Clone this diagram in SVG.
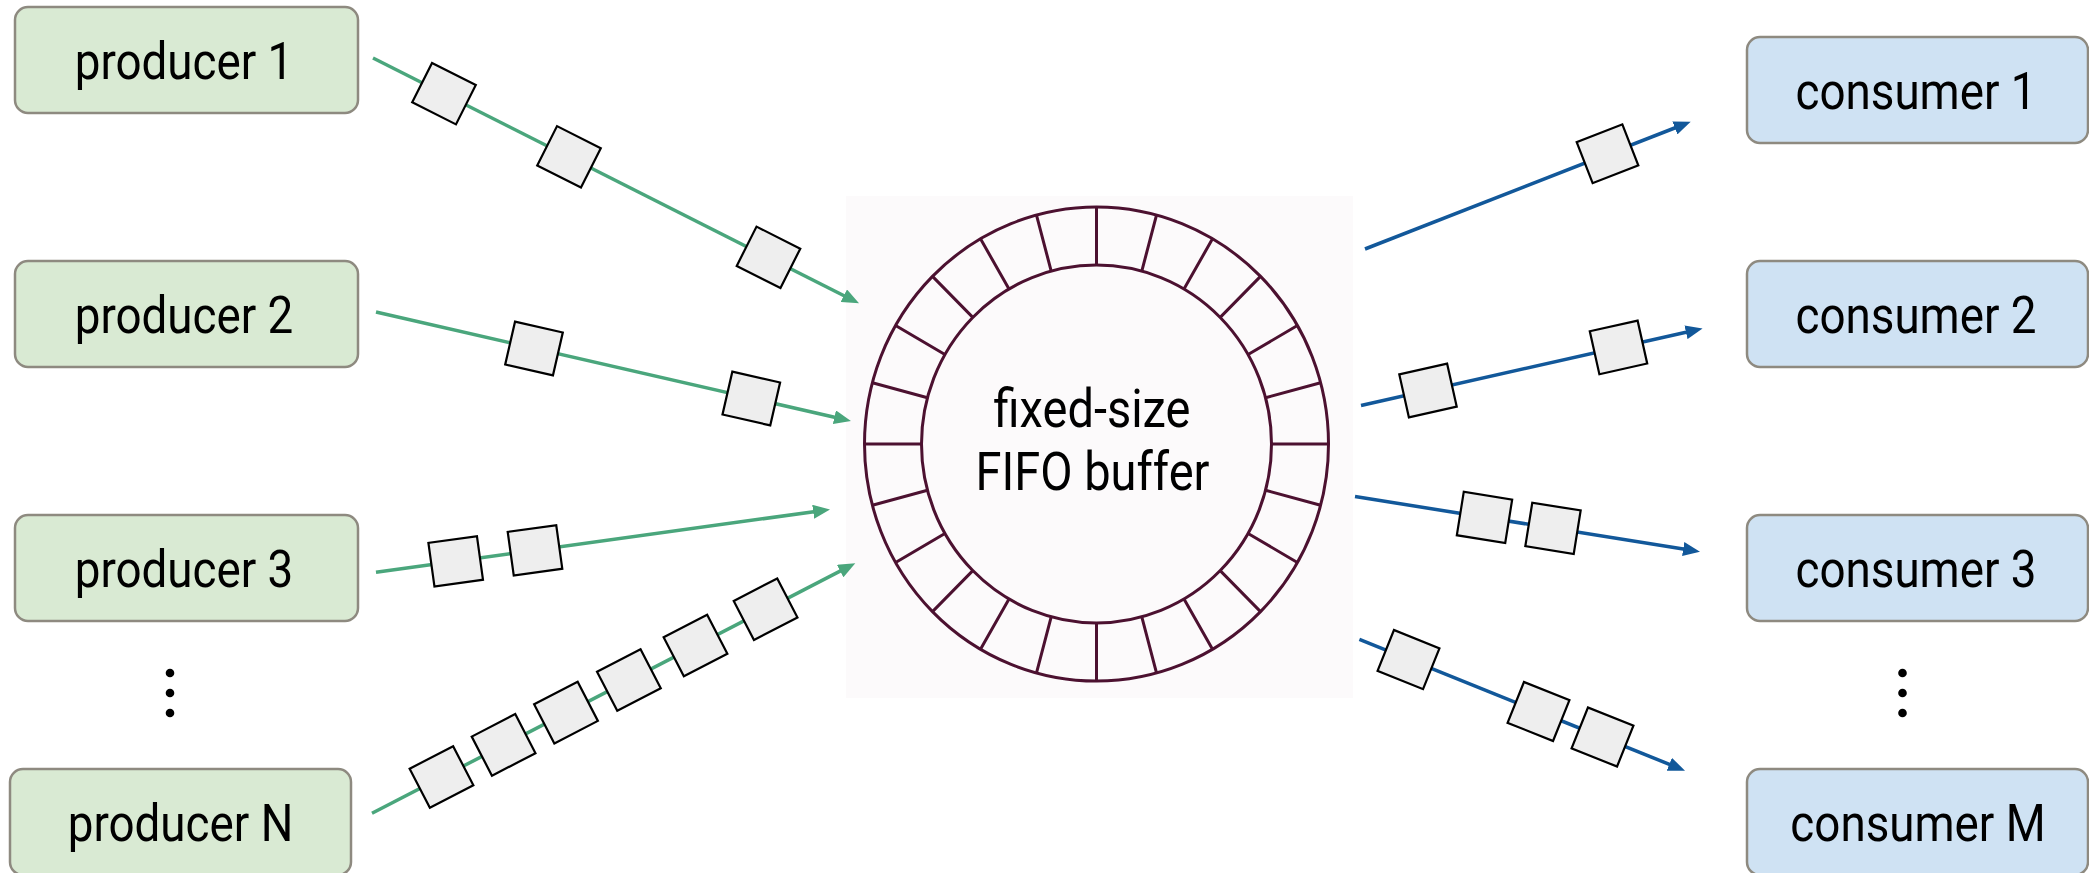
<svg xmlns="http://www.w3.org/2000/svg" xmlns:xlink="http://www.w3.org/1999/xlink" width="2089" height="873" viewBox="0 0 2089 873">
  <style>
    .prod rect { fill: #d9ead3; stroke: #8e8a80; stroke-width: 2.5; }
    .cons rect { fill: #cfe2f3; stroke: #8e8a80; stroke-width: 2.5; }
    .label { font-family: Roboto, "Liberation Sans", sans-serif; font-size: 52px; fill: #000; text-anchor: middle; }
    .center { font-family: Roboto, "Liberation Sans", sans-serif; font-size: 53px; fill: #000; text-anchor: middle; }
    .ring { fill: none; stroke: #4c1130; stroke-width: 3; }
    .in { fill: none; stroke: #4aa67c; stroke-width: 3.5; marker-end: url(#arrowIn); }
    .out { fill: none; stroke: #12589a; stroke-width: 3.5; marker-end: url(#arrowOut); }
    .pkt { fill: #eeeeee; stroke: #000; stroke-width: 2.2; }
    .dot { fill: #000; }
  </style>
  <defs>
    <marker id="arrowIn" markerUnits="userSpaceOnUse" markerWidth="18" markerHeight="14" refX="8" refY="7" orient="auto">
      <path d="M0,0 L17,7 L0,14 z" fill="#4aa67c"/>
    </marker>
    <marker id="arrowOut" markerUnits="userSpaceOnUse" markerWidth="18" markerHeight="14" refX="8" refY="7" orient="auto">
      <path d="M0,0 L17,7 L0,14 z" fill="#12589a"/>
    </marker>
    <rect id="pkt" class="pkt" x="-24.5" y="-22" width="49" height="44"/>
  </defs>

  <!-- producers (labels narrowed horizontally for a condensed face) -->
  <g id="producer-1" class="prod">
    <rect x="15" y="7" width="343" height="106" rx="13"/>
    <text class="label" transform="translate(184,79) scale(0.88,1)">producer 1</text>
  </g>
  <g id="producer-2" class="prod">
    <rect x="15" y="261" width="343" height="106" rx="13"/>
    <text class="label" transform="translate(184,333) scale(0.88,1)">producer 2</text>
  </g>
  <g id="producer-3" class="prod">
    <rect x="15" y="515" width="343" height="106" rx="13"/>
    <text class="label" transform="translate(184,587) scale(0.88,1)">producer 3</text>
  </g>
  <g id="producer-dots">
    <circle class="dot" cx="170" cy="673" r="4.3"/>
    <circle class="dot" cx="170" cy="693" r="4.3"/>
    <circle class="dot" cx="170" cy="713" r="4.3"/>
  </g>
  <g id="producer-n" class="prod">
    <rect x="10" y="769" width="341" height="106" rx="13"/>
    <text class="label" transform="translate(180.5,841) scale(0.88,1)">producer N</text>
  </g>

  <!-- ring buffer -->
  <g id="buffer">
    <rect x="846" y="196" width="507" height="502" fill="#fcfafb"/>
    <ellipse class="ring" cx="1096.5" cy="444" rx="232" ry="237"/>
    <ellipse class="ring" cx="1096.5" cy="444" rx="175" ry="179"/>
    <path class="ring" d="
      M1096.5,265 L1096.5,207
      M1141.8,271.1 L1156.5,215.1
      M1184,289 L1212.5,238.8
      M1220.2,317.4 L1260.5,276.4
      M1248.1,354.5 L1297.4,325.5
      M1265.5,397.7 L1320.6,382.7
      M1271.5,444 L1328.5,444
      M1265.5,490.3 L1320.6,505.3
      M1248.1,533.5 L1297.4,562.5
      M1220.2,570.6 L1260.5,611.6
      M1184,599 L1212.5,649.2
      M1141.8,616.9 L1156.5,672.9
      M1096.5,623 L1096.5,681
      M1051.2,616.9 L1036.5,672.9
      M1009,599 L980.5,649.2
      M972.8,570.6 L932.5,611.6
      M944.9,533.5 L895.6,562.5
      M927.5,490.3 L872.4,505.3
      M921.5,444 L864.5,444
      M927.5,397.7 L872.4,382.7
      M944.9,354.5 L895.6,325.5
      M972.8,317.4 L932.5,276.4
      M1009,289 L980.5,238.8
      M1051.2,271.1 L1036.5,215.1"/>
    <text class="center" transform="translate(1092,427) scale(0.887,1)">fixed-size</text>
    <text class="center" transform="translate(1092.5,490) scale(0.887,1)">FIFO buffer</text>
  </g>

  <!-- consumers -->
  <g id="consumer-1" class="cons">
    <rect x="1747" y="37" width="341" height="106" rx="13"/>
    <text class="label" transform="translate(1916,109) scale(0.88,1)">consumer 1</text>
  </g>
  <g id="consumer-2" class="cons">
    <rect x="1747" y="261" width="341" height="106" rx="13"/>
    <text class="label" transform="translate(1916,333) scale(0.88,1)">consumer 2</text>
  </g>
  <g id="consumer-3" class="cons">
    <rect x="1747" y="515" width="341" height="106" rx="13"/>
    <text class="label" transform="translate(1916,587) scale(0.88,1)">consumer 3</text>
  </g>
  <g id="consumer-dots">
    <circle class="dot" cx="1902.5" cy="673" r="4.3"/>
    <circle class="dot" cx="1902.5" cy="693" r="4.3"/>
    <circle class="dot" cx="1902.5" cy="713" r="4.3"/>
  </g>
  <g id="consumer-m" class="cons">
    <rect x="1747" y="769" width="341" height="106" rx="13"/>
    <text class="label" transform="translate(1918,841) scale(0.88,1)">consumer M</text>
  </g>

  <!-- connectors with queued items -->
  <g id="connectors">
    <path class="in" d="M373,58 L851,299.3"/>
    <path class="in" d="M376,312 L842.2,419"/>
    <path class="in" d="M376,572.3 L821.1,510.7"/>
    <path class="in" d="M372,813.3 L847.3,567.4"/>
    <path class="out" d="M1365,249 L1682.3,125"/>
    <path class="out" d="M1361,405.5 L1693.8,330.5"/>
    <path class="out" d="M1355,496.5 L1691.1,550.3"/>
    <path class="out" d="M1359.4,639.4 L1676.7,767.3"/>

    <use xlink:href="#pkt" transform="translate(444,93.7) rotate(26.75)"/>
    <use xlink:href="#pkt" transform="translate(569,156.8) rotate(26.75)"/>
    <use xlink:href="#pkt" transform="translate(768.5,257.3) rotate(26.75)"/>

    <use xlink:href="#pkt" transform="translate(534,348.5) rotate(12.93)"/>
    <use xlink:href="#pkt" transform="translate(751.3,398.5) rotate(12.93)"/>

    <use xlink:href="#pkt" transform="translate(455.7,561.3) rotate(-7.9)"/>
    <use xlink:href="#pkt" transform="translate(535,550.3) rotate(-7.9)"/>

    <use xlink:href="#pkt" transform="translate(441.5,777) rotate(-27.37)"/>
    <use xlink:href="#pkt" transform="translate(503.6,744.9) rotate(-27.37)"/>
    <use xlink:href="#pkt" transform="translate(566,712.6) rotate(-27.37)"/>
    <use xlink:href="#pkt" transform="translate(628.9,680) rotate(-27.37)"/>
    <use xlink:href="#pkt" transform="translate(695.5,645.5) rotate(-27.37)"/>
    <use xlink:href="#pkt" transform="translate(765.6,609.2) rotate(-27.37)"/>

    <use xlink:href="#pkt" transform="translate(1607.5,153.8) rotate(-21.28)"/>

    <use xlink:href="#pkt" transform="translate(1428,390.5) rotate(-12.6)"/>
    <use xlink:href="#pkt" transform="translate(1618.5,347.4) rotate(-12.6)"/>

    <use xlink:href="#pkt" transform="translate(1484.5,517.4) rotate(9.09)"/>
    <use xlink:href="#pkt" transform="translate(1553,528.3) rotate(9.09)"/>

    <use xlink:href="#pkt" transform="translate(1408.5,659.6) rotate(21.9)"/>
    <use xlink:href="#pkt" transform="translate(1538.5,711.5) rotate(21.9)"/>
    <use xlink:href="#pkt" transform="translate(1602.5,737) rotate(21.9)"/>
  </g>
</svg>
